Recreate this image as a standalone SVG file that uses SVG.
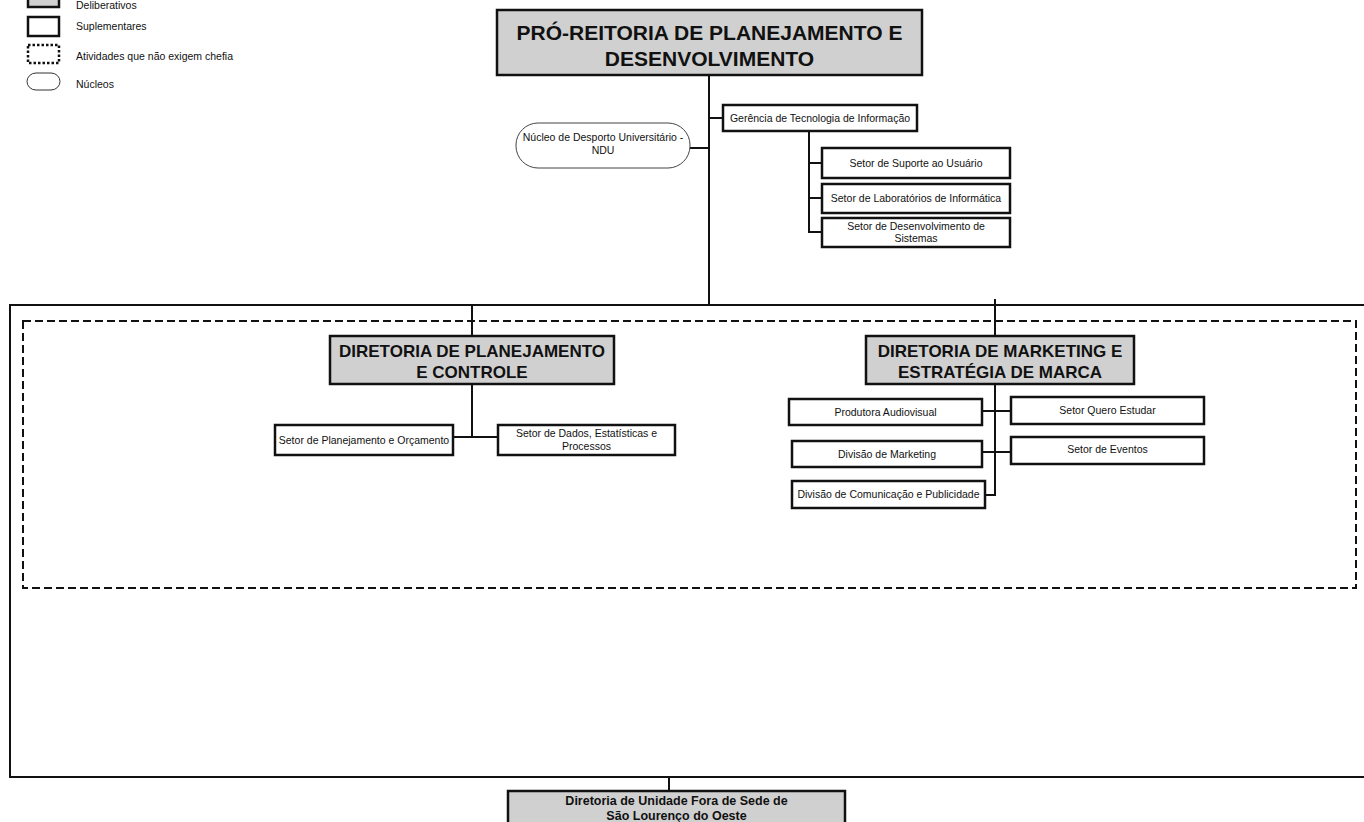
<svg xmlns="http://www.w3.org/2000/svg" width="1364" height="822" viewBox="0 0 1364 822">
<style>
text{font-family:"Liberation Sans",Arial,sans-serif;fill:#111}
.t{font-size:10.5px;text-anchor:middle}
.l{font-size:10.5px}
.b{font-weight:bold;text-anchor:middle}
.gray{fill:#d0d0d0;stroke:#111;stroke-width:2.5}
.box{fill:#fff;stroke:#111;stroke-width:2.5}
.c{fill:none;stroke:#111;stroke-width:2}
</style>
<rect width="1364" height="822" fill="#fff"/>
<g id="legend">
<rect x="28" y="-20" width="31" height="27" class="gray"/>
<text x="76" y="9" class="l">Deliberativos</text>
<rect x="28" y="17" width="31" height="19" class="box"/>
<text x="76" y="30" class="l">Suplementares</text>
<rect x="28" y="45" width="31" height="18" fill="#fff" stroke="#111" stroke-width="2.5" stroke-dasharray="2.5,2"/>
<text x="76" y="60" class="l">Atividades que não exigem chefia</text>
<rect x="27" y="73" width="33" height="17" rx="9" fill="#fff" stroke="#333" stroke-width="1"/>
<text x="76" y="88" class="l">Núcleos</text>
</g>
<g id="frames">
<path d="M1364,305 H10 V777 H1364" class="c"/>
<rect x="23" y="321" width="1333" height="267" fill="none" stroke="#111" stroke-width="2" stroke-dasharray="8,4"/>
</g>
<g id="connectors" class="c">
<path d="M709,75 V305"/>
<path d="M709,118 H723"/>
<path d="M690,148 H709"/>
<path d="M809,131 V232 H822 M809,163 H822 M809,198 H822"/>
<path d="M472,305 V336"/>
<path d="M472,384 V437 M453,437 H498"/>
<path d="M995,299 V336"/>
<path d="M995,384 V495 H985 M982,411 H1011 M982,452 H1011"/>
<path d="M669,777 V791"/>
</g>
<g id="pro-reitoria">
<rect x="497" y="10" width="425" height="65" class="gray"/>
<text x="709.5" y="40" class="b" font-size="21">PRÓ-REITORIA DE PLANEJAMENTO E</text>
<text x="709.5" y="66" class="b" font-size="21">DESENVOLVIMENTO</text>
</g>
<g id="gerencia-ti">
<rect x="723" y="105" width="194" height="26" class="box"/>
<text x="820" y="122" class="t">Gerência de Tecnologia de Informação</text>
</g>
<g id="nucleo-ndu">
<rect x="516" y="123" width="174" height="45" rx="22" fill="#fff" stroke="#444" stroke-width="1"/>
<text x="603" y="141" class="t" font-size="9.8">Núcleo de Desporto Universitário -</text>
<text x="603" y="154" class="t" font-size="9.8">NDU</text>
</g>
<g id="setor-suporte">
<rect x="822" y="148" width="188" height="30" class="box"/>
<text x="916" y="167" class="t">Setor de Suporte ao Usuário</text>
</g>
<g id="setor-laboratorios">
<rect x="822" y="184" width="188" height="29" class="box"/>
<text x="916" y="202" class="t">Setor de Laboratórios de Informática</text>
</g>
<g id="setor-desenvolvimento">
<rect x="822" y="218" width="188" height="29" class="box"/>
<text x="916" y="230" class="t">Setor de Desenvolvimento de</text>
<text x="916" y="242" class="t">Sistemas</text>
</g>
<g id="diretoria-planejamento">
<rect x="330" y="336" width="284" height="48" class="gray"/>
<text x="472" y="357" class="b" font-size="17">DIRETORIA DE PLANEJAMENTO</text>
<text x="472" y="378" class="b" font-size="17">E CONTROLE</text>
</g>
<g id="setor-planejamento-orcamento">
<rect x="275" y="425" width="178" height="30" class="box"/>
<text x="364" y="444" class="t">Setor de Planejamento e Orçamento</text>
</g>
<g id="setor-dados">
<rect x="498" y="425" width="177" height="30" class="box"/>
<text x="586.5" y="437" class="t">Setor de Dados, Estatísticas e</text>
<text x="586.5" y="450" class="t">Processos</text>
</g>
<g id="diretoria-marketing">
<rect x="866" y="336" width="268" height="48" class="gray"/>
<text x="1000" y="357" class="b" font-size="17">DIRETORIA DE MARKETING E</text>
<text x="1000" y="378" class="b" font-size="17">ESTRATÉGIA DE MARCA</text>
</g>
<g id="produtora">
<rect x="789" y="399" width="193" height="26" class="box"/>
<text x="885.5" y="416" class="t">Produtora Audiovisual</text>
</g>
<g id="setor-quero-estudar">
<rect x="1011" y="397" width="193" height="27" class="box"/>
<text x="1107.5" y="414" class="t">Setor Quero Estudar</text>
</g>
<g id="divisao-marketing">
<rect x="792" y="441" width="190" height="26" class="box"/>
<text x="887" y="458" class="t">Divisão de Marketing</text>
</g>
<g id="setor-eventos">
<rect x="1011" y="437" width="193" height="27" class="box"/>
<text x="1107.5" y="453" class="t">Setor de Eventos</text>
</g>
<g id="divisao-comunicacao">
<rect x="792" y="481" width="193" height="27" class="box"/>
<text x="888.5" y="498" class="t">Divisão de Comunicação e Publicidade</text>
</g>
<g id="diretoria-sao-lourenco">
<rect x="508" y="791" width="337" height="45" class="gray"/>
<text x="676.5" y="805" class="b" font-size="12.5">Diretoria de Unidade Fora de Sede de</text>
<text x="676.5" y="820" class="b" font-size="12.5">São Lourenço do Oeste</text>
</g>
</svg>
